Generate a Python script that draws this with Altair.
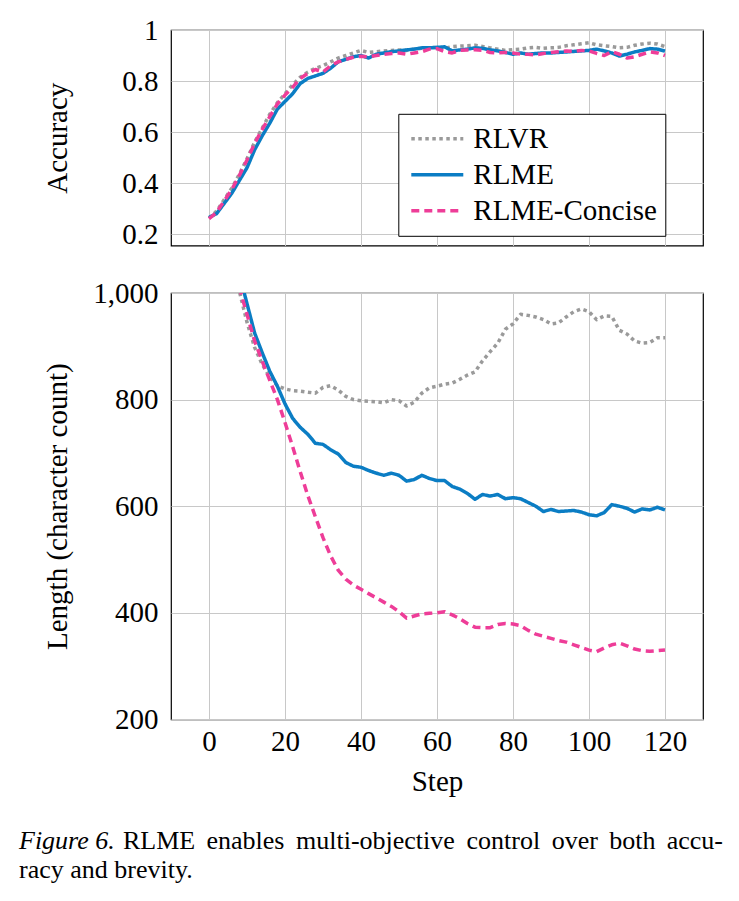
import altair as alt
import pandas as pd

# ---- data -------------------------------------------------------------
series_names = ["RLVR", "RLME", "RLME-Concise"]
series_colors = ["#9a9a9a", "#0b7dc4", "#ee3d98"]
series_dashes = [[3.5, 3.5], [1, 0], [8, 5]]

acc_steps = list(range(0, 121, 2))
acc_rlvr = [
    0.262, 0.29, 0.335, 0.38, 0.435, 0.495, 0.56, 0.615, 0.67, 0.715,
    0.75, 0.785, 0.815, 0.835, 0.85, 0.86, 0.875, 0.89, 0.9, 0.91,
    0.92, 0.912, 0.915, 0.918, 0.92, 0.922, 0.92, 0.925, 0.928, 0.93,
    0.932, 0.928, 0.935, 0.937, 0.938, 0.94, 0.935, 0.93, 0.925, 0.92,
    0.923, 0.925, 0.93, 0.932, 0.928, 0.93, 0.932, 0.938, 0.942, 0.946,
    0.95, 0.942, 0.938, 0.935, 0.93, 0.932, 0.94, 0.945, 0.948, 0.945,
    0.935,
]
acc_rlme = [
    0.265, 0.28, 0.32, 0.36, 0.41, 0.46, 0.53, 0.585, 0.635, 0.69,
    0.72, 0.75, 0.79, 0.81, 0.82, 0.83, 0.85, 0.875, 0.885, 0.895,
    0.90, 0.89, 0.905, 0.91, 0.915, 0.918, 0.922, 0.925, 0.93, 0.93,
    0.932, 0.934, 0.918, 0.922, 0.925, 0.93, 0.928, 0.922, 0.918, 0.912,
    0.905, 0.91, 0.905, 0.908, 0.91, 0.91, 0.912, 0.914, 0.916, 0.918,
    0.92, 0.925, 0.918, 0.91, 0.898, 0.905, 0.914, 0.92, 0.927, 0.925,
    0.917,
]
acc_concise = [
    0.26, 0.285, 0.33, 0.375, 0.43, 0.49, 0.555, 0.61, 0.66, 0.71,
    0.745, 0.775, 0.81, 0.83, 0.845, 0.835, 0.86, 0.875, 0.885, 0.893,
    0.897, 0.895, 0.9, 0.905, 0.908, 0.91, 0.905, 0.91, 0.915, 0.925,
    0.927, 0.915, 0.91, 0.92, 0.922, 0.923, 0.92, 0.912, 0.91, 0.912,
    0.91, 0.905, 0.905, 0.902, 0.908, 0.912, 0.915, 0.918, 0.916, 0.92,
    0.918, 0.908, 0.9, 0.915, 0.905, 0.89, 0.895, 0.905, 0.914, 0.91,
    0.90,
]

len_steps = list(range(4, 121, 2))
len_rlvr = [
    1115, 1055, 1003, 945, 898, 866, 842, 826, 820, 817,
    816, 814, 812, 823, 826, 818, 806, 800, 798, 797,
    796, 794, 800, 798, 788, 795, 812, 822, 825, 829,
    831, 838, 846, 852, 873, 890, 906, 932, 942, 960,
    958, 955, 950, 942, 944, 955, 965, 970, 965, 950,
    957, 956, 930, 923, 910, 906, 907, 916, 916,
]
len_rlme = [
    1140, 1080, 1035, 980, 925, 888, 853, 825, 792, 765,
    748, 735, 718, 716, 706, 698, 682, 675, 673, 667,
    662, 658, 662, 658, 647, 650, 658, 652, 648, 648,
    637, 632, 624, 613, 622, 619, 622, 614, 616, 614,
    607, 600, 590, 594, 590, 591, 592, 589, 584, 582,
    588, 603, 600, 596, 589, 595, 593, 598, 593,
]
len_concise = [
    1130, 1060, 1010, 960, 910, 872, 836, 800, 757, 712,
    665, 620, 580, 541, 507, 480, 463, 452, 444, 436,
    428, 420, 412, 402, 390, 394, 398, 399, 400, 402,
    396, 389, 380, 373, 372, 372, 378, 380, 379, 376,
    367, 360, 356, 352, 348, 345, 340, 335, 330, 327,
    334, 340, 343, 338, 332, 329, 328, 329, 330,
]

step_ticks = [0, 20, 40, 60, 80, 100, 120]
acc_ticks = [0.2, 0.4, 0.6, 0.8, 1.0]
len_ticks = [200, 400, 600, 800, 1000]

caption_lead = "Figure 6."
caption_words = ["RLME", "enables", "multi-objective", "control", "over", "both", "accu-"]
caption_tail = "racy and brevity."


def long_table(steps, columns):
    rows = []
    for name, values in zip(series_names, columns):
        for s, v in zip(steps, values):
            rows.append({"step": s, "value": v, "series": name})
    return pd.DataFrame(rows)


acc_df = long_table(acc_steps, [acc_rlvr, acc_rlme, acc_concise])
len_df = long_table(len_steps, [len_rlvr, len_rlme, len_concise])

# ---- styling ------------------------------------------------------------
FONT = "'Liberation Serif', 'Times New Roman', Times, serif"
GRID = "#c8c8c8"
FS = 29
W = 532
H_TOP = 215.5
H_BOT = 426.4

x_scale = alt.Scale(domain=[-10, 130], nice=False, zero=False)


def series_layers(df, y_enc, x_axis, legend):
    color = alt.Color(
        "series:N",
        scale=alt.Scale(domain=series_names, range=series_colors),
        legend=legend,
    )
    dash = alt.StrokeDash(
        "series:N",
        scale=alt.Scale(domain=series_names, range=series_dashes),
        legend=legend,
    )
    layers = []
    for name in series_names:
        layers.append(
            alt.Chart(df)
            .transform_filter(alt.datum.series == name)
            .mark_line(strokeWidth=3.5, clip=True, strokeCap="butt", strokeJoin="round")
            .encode(
                x=alt.X("step:Q", scale=x_scale, axis=x_axis),
                y=y_enc,
                color=color,
                strokeDash=dash,
            )
        )
    return layers


top_legend = alt.Legend(
    title=None,
    orient="none",
    legendX=227.3,
    legendY=83.8,
    labelFont=FONT,
    labelFontSize=FS,
    labelColor="black",
    labelLimit=0,
    labelOffset=8,
    symbolType="stroke",
    symbolSize=2704,
    symbolStrokeWidth=3.5,
    symbolOffset=3,
    clipHeight=34,
    rowPadding=2,
    padding=8,
    strokeColor="black",
    fillColor="white",
    cornerRadius=0,
)

top_x_axis = alt.Axis(
    values=step_ticks, labels=False, ticks=False, domain=False, title=None,
    grid=True, gridColor=GRID, gridWidth=1,
)
top_y = alt.Y(
    "value:Q",
    scale=alt.Scale(domain=[0.155, 1.0], nice=False, zero=False),
    axis=alt.Axis(
        values=acc_ticks,
        labelExpr="datum.value == 1 ? '1' : format(datum.value, '.1f')",
        title="Accuracy",
        titleX=-99,
        titleY=H_TOP / 2,
        titleFont=FONT, titleFontSize=FS, titleFontWeight="normal", titleColor="black",
        labelFont=FONT, labelFontSize=FS, labelColor="black", labelPadding=13,
        ticks=False, tickSize=0, domain=False,
        grid=True, gridColor=GRID, gridWidth=1,
    ),
)

top = alt.layer(*series_layers(acc_df, top_y, top_x_axis, top_legend)).properties(
    width=W, height=H_TOP
)

bottom_x_axis = alt.Axis(
    values=step_ticks,
    title="Step",
    titleFont=FONT, titleFontSize=FS, titleFontWeight="normal", titleColor="black",
    titleBaseline="alphabetic", titleY=71,
    labelFont=FONT, labelFontSize=FS, labelColor="black",
    labelBaseline="alphabetic", labelPadding=31,
    ticks=False, tickSize=0, domain=False,
    grid=True, gridColor=GRID, gridWidth=1,
)
bottom_y = alt.Y(
    "value:Q",
    scale=alt.Scale(domain=[200, 1000], nice=False, zero=False),
    axis=alt.Axis(
        values=len_ticks,
        format=",d",
        title="Length (character count)",
        titleX=-99,
        titleY=H_BOT / 2,
        titleFont=FONT, titleFontSize=FS, titleFontWeight="normal", titleColor="black",
        labelFont=FONT, labelFontSize=FS, labelColor="black", labelPadding=13,
        ticks=False, tickSize=0, domain=False,
        grid=True, gridColor=GRID, gridWidth=1,
    ),
)

# caption beneath the lower panel; first line set word by word (justified)
CAP_FS = 26
CAP_LINE1 = 555.7
CAP_LINE2 = 584.7
word_x = [-48, 35.5, 125, 295.5, 380.7, 438.2, 495.7]


def caption_text(text, x, y, italic=False):
    return alt.Chart(pd.DataFrame({"t": [text]})).mark_text(
        font=FONT, fontSize=CAP_FS, fontStyle="italic" if italic else "normal",
        align="left", baseline="alphabetic", color="black",
    ).encode(x=alt.value(x), y=alt.value(y), text="t:N")


caption_layers = [caption_text(caption_lead, -152, CAP_LINE1, italic=True)]
caption_layers += [caption_text(w, x, CAP_LINE1) for w, x in zip(caption_words, word_x)]
caption_layers.append(caption_text(caption_tail, -152, CAP_LINE2))

bottom = alt.layer(
    *series_layers(len_df, bottom_y, bottom_x_axis, None), *caption_layers
).properties(width=W, height=H_BOT)

chart = (
    alt.vconcat(top, bottom, spacing=47, bounds="flush")
    .resolve_scale(color="independent", strokeDash="independent")
    .properties(padding={"left": 18, "top": 15, "right": 10, "bottom": 10})
    .configure(font=FONT)
    .configure_view(stroke="black", strokeWidth=1.2)
)

chart.save("out.html", embed_options={"renderer": "svg", "actions": False})
